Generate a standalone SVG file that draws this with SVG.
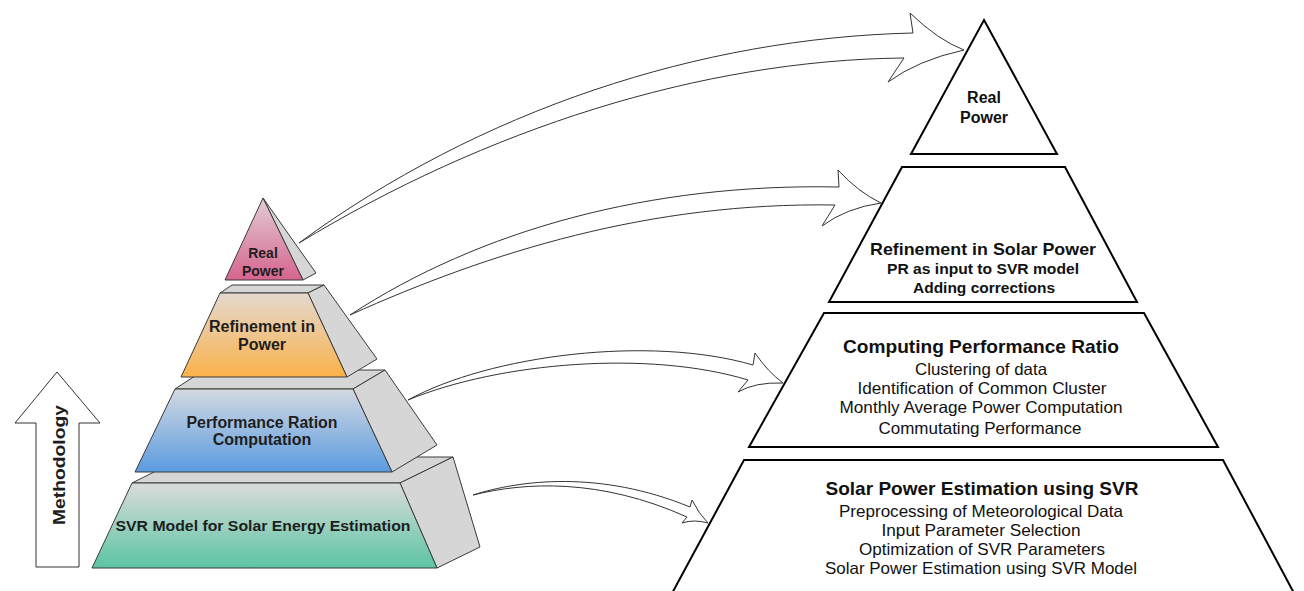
<svg xmlns="http://www.w3.org/2000/svg" width="1304" height="591" viewBox="0 0 1304 591">
<defs>
<linearGradient id="gPink" x1="0" y1="0" x2="0" y2="1"><stop offset="0" stop-color="#e4ccd6"/><stop offset="1" stop-color="#d5648e"/></linearGradient>
<linearGradient id="gOrange" x1="0" y1="0" x2="0" y2="1"><stop offset="0" stop-color="#e4d8ce"/><stop offset="1" stop-color="#fab24a"/></linearGradient>
<linearGradient id="gBlue" x1="0" y1="0" x2="0" y2="1"><stop offset="0" stop-color="#d3d9e1"/><stop offset="1" stop-color="#5a9be0"/></linearGradient>
<linearGradient id="gTeal" x1="0" y1="0" x2="0" y2="1"><stop offset="0" stop-color="#dadcda"/><stop offset="1" stop-color="#5cc4a4"/></linearGradient>
<style>
.side{fill:#d6d6d6;stroke:#3a3a3a;stroke-width:1;stroke-linejoin:round}
.front{stroke:#3a3a3a;stroke-width:1;stroke-linejoin:round}
.lt{font-family:"Liberation Sans",Arial,sans-serif;font-weight:bold;fill:#1e1e1e;text-anchor:middle}
.rbox{fill:#fff;stroke:#000;stroke-width:2;stroke-linejoin:miter}
.rt{font-family:"Liberation Sans",Arial,sans-serif;fill:#111;text-anchor:middle}
.b{font-weight:bold}
.arr{fill:#fff;stroke:#333;stroke-width:1;stroke-linejoin:miter}
</style>
</defs>
<rect width="1304" height="591" fill="#fff"/>

<g id="methodology">
<polygon class="arr" points="57,372 100,423 79,423 79,567 36,567 36,423 15,423"/>
<text class="lt" font-size="16" transform="translate(65,465) rotate(-90)" textLength="120" lengthAdjust="spacingAndGlyphs" fill="#000">Methodology</text>
</g>

<g id="left-svr">
<polygon class="side" points="132,483 184,457 453,457 400,483"/>
<polygon class="side" points="400,483 453,457 480,547 437,568"/>
<polygon class="front" fill="url(#gTeal)" points="132,483 400,483 437,568 92,568"/>
<text class="lt" x="263" y="531" font-size="15.5" textLength="295" lengthAdjust="spacingAndGlyphs">SVR Model for Solar Energy Estimation</text>
</g>

<g id="left-performance">
<polygon class="side" points="175,389 204,370 385,370 353,389"/>
<polygon class="side" points="353,389 385,370 437,445 392,472"/>
<polygon class="front" fill="url(#gBlue)" points="175,389 353,389 392,472 135,472"/>
<text class="lt" x="262" y="428" font-size="16" textLength="151" lengthAdjust="spacingAndGlyphs">Performance Ration</text>
<text class="lt" x="262" y="445" font-size="16">Computation</text>
</g>

<g id="left-refinement">
<polygon class="side" points="220,293 232,285 324,285 308,293"/>
<polygon class="side" points="308,293 324,285 377,359 347,377"/>
<polygon class="front" fill="url(#gOrange)" points="220,293 308,293 347,377 181,377"/>
<text class="lt" x="262" y="332" font-size="16" textLength="106" lengthAdjust="spacingAndGlyphs">Refinement in</text>
<text class="lt" x="262" y="350" font-size="16">Power</text>
</g>

<g id="left-real">
<polygon class="side" points="263,198 316,273 303,280"/>
<polygon class="front" fill="url(#gPink)" points="263,198 303,280 225,280"/>
<text class="lt" x="263" y="258" font-size="14">Real</text>
<text class="lt" x="263" y="276" font-size="14">Power</text>
</g>

<g id="right-real">
<polygon class="rbox" points="984,20 1057,154 911,154"/>
<text class="rt b" x="984" y="103" font-size="16">Real</text>
<text class="rt b" x="984" y="123" font-size="16">Power</text>
</g>

<g id="right-refinement">
<polygon class="rbox" points="902,167 1065,167 1137,302 829,302"/>
<text class="rt b" x="983" y="255" font-size="17" textLength="226" lengthAdjust="spacingAndGlyphs">Refinement in Solar Power</text>
<text class="rt b" x="983" y="274" font-size="15" textLength="192" lengthAdjust="spacingAndGlyphs">PR as input to SVR model</text>
<text class="rt b" x="984" y="293" font-size="15" textLength="142" lengthAdjust="spacingAndGlyphs">Adding corrections</text>
</g>

<g id="right-computing">
<polygon class="rbox" points="824,313 1144,313 1218,447 749,447"/>
<text class="rt b" x="981" y="353" font-size="18.5" textLength="276" lengthAdjust="spacingAndGlyphs">Computing Performance Ratio</text>
<text class="rt" x="981" y="375" font-size="16.5" textLength="132" lengthAdjust="spacingAndGlyphs">Clustering of data</text>
<text class="rt" x="982" y="394" font-size="16.5" textLength="249" lengthAdjust="spacingAndGlyphs">Identification of Common Cluster</text>
<text class="rt" x="981" y="413" font-size="16.5" textLength="283" lengthAdjust="spacingAndGlyphs">Monthly Average Power Computation</text>
<text class="rt" x="980" y="434" font-size="16.5" textLength="203" lengthAdjust="spacingAndGlyphs">Commutating Performance</text>
</g>

<g id="right-solar">
<polygon class="rbox" points="744,460 1223,460 1303,610 663,610"/>
<text class="rt b" x="982" y="495" font-size="18.5" textLength="313" lengthAdjust="spacingAndGlyphs">Solar Power Estimation using SVR</text>
<text class="rt" x="981" y="517" font-size="16.5" textLength="284" lengthAdjust="spacingAndGlyphs">Preprocessing of Meteorological Data</text>
<text class="rt" x="981" y="536" font-size="16.5" textLength="199" lengthAdjust="spacingAndGlyphs">Input Parameter Selection</text>
<text class="rt" x="982" y="555" font-size="16.5" textLength="246" lengthAdjust="spacingAndGlyphs">Optimization of SVR Parameters</text>
<text class="rt" x="981" y="574" font-size="16.5" textLength="312" lengthAdjust="spacingAndGlyphs">Solar Power Estimation using SVR Model</text>
</g>

<g id="connectors">
<path class="arr" d="M299,243 C480,110 700,38 913,33 L910,13 Q938,40 964,50 Q918,60 888,82 L904,58 C700,60 485,130 299,243 Z"/>
<path class="arr" d="M350,315 C480,230 650,183 839,187 L838,170 Q858,192 881,203 Q846,208 822,226 L835,205 C650,202 490,252 350,315 Z"/>
<path class="arr" d="M408,400 C490,355 650,335 753,365 L755,353 Q768,372 783,383 Q755,382 738,392 L748,380 C650,350 500,362 408,400 Z"/>
<path class="arr" d="M473,495 C520,480 600,470 690,507 L692,500 Q699,514 708,523 Q694,519 682,523 L687,517 C600,478 525,482 473,495 Z"/>
</g>
</svg>
